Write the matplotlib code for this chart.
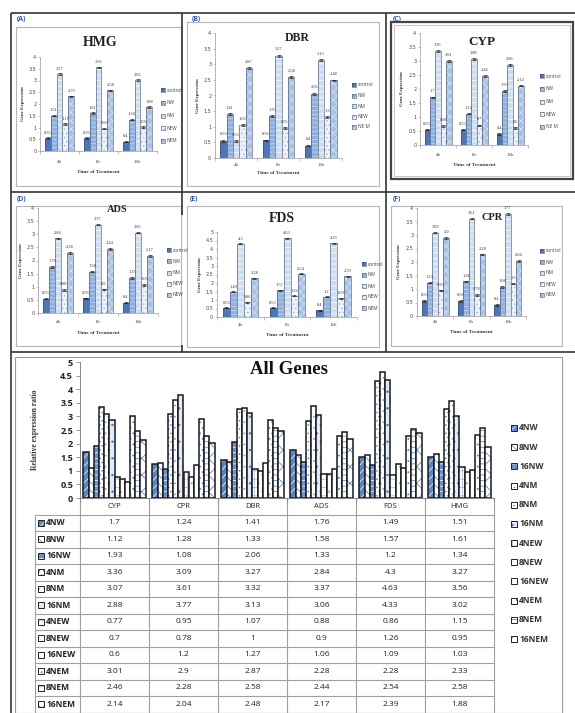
import matplotlib
matplotlib.use("Agg")
import matplotlib.pyplot as plt
from matplotlib.patches import Rectangle
from matplotlib.ticker import FuncFormatter, MultipleLocator, FixedLocator
import numpy as np

plt.rcParams['hatch.linewidth'] = 0.5

W, H = 575, 713
fig = plt.figure(figsize=(W / 100, H / 100), dpi=100)

# ---------------- data ----------------
times = ["4h", "8h", "16h"]
treatments = ["control", "NW", "NM", "NEW", "NEM"]

# rows: control, NW, NM, NEW, NEM ; columns: 4h, 8h, 16h
hmg = [[0.55, 0.56, 0.4], [1.51, 1.61, 1.34], [3.27, 3.56, 3.02], [1.15, 0.95, 1.03], [2.33, 2.58, 1.88]]
dbr = [[0.55, 0.56, 0.4], [1.41, 1.33, 2.06], [0.53, 3.27, 3.13], [1.06, 0.95, 1.3], [2.87, 2.58, 2.48]]
cyp = [[0.55, 0.55, 0.4], [1.7, 1.12, 1.93], [3.36, 3.08, 2.86], [0.68, 0.7, 0.6], [3.01, 2.46, 2.12]]
ads = [[0.55, 0.56, 0.4], [1.76, 1.58, 1.33], [2.84, 3.37, 3.06], [0.88, 0.9, 1.06], [2.28, 2.44, 2.17]]
fds = [[0.55, 0.55, 0.4], [1.49, 1.57, 1.2], [4.3, 4.63, 4.33], [0.86, 1.26, 1.09], [2.28, 2.54, 2.39]]
cpr = [[0.55, 0.56, 0.4], [1.24, 1.28, 1.08], [3.09, 3.61, 3.77], [0.95, 0.78, 1.2], [2.9, 2.28, 2.04]]

genes = ["CYP", "CPR", "DBR", "ADS", "FDS", "HMG"]
conditions = ["4NW", "8NW", "16NW", "4NM", "8NM", "16NM",
              "4NEW", "8NEW", "16NEW", "4NEM", "8NEM", "16NEM"]
r_4nw = [1.7, 1.24, 1.41, 1.76, 1.49, 1.51]
r_8nw = [1.12, 1.28, 1.33, 1.58, 1.57, 1.61]
r_16nw = [1.93, 1.08, 2.06, 1.33, 1.2, 1.34]
r_4nm = [3.36, 3.09, 3.27, 2.84, 4.3, 3.27]
r_8nm = [3.07, 3.61, 3.32, 3.37, 4.63, 3.56]
r_16nm = [2.88, 3.77, 3.13, 3.06, 4.33, 3.02]
r_4new = [0.77, 0.95, 1.07, 0.88, 0.86, 1.15]
r_8new = [0.7, 0.78, 1, 0.9, 1.26, 0.95]
r_16new = [0.6, 1.2, 1.27, 1.06, 1.09, 1.03]
r_4nem = [3.01, 2.9, 2.87, 2.28, 2.28, 2.33]
r_8nem = [2.46, 2.28, 2.58, 2.44, 2.54, 2.58]
r_16nem = [2.14, 2.04, 2.48, 2.17, 2.39, 1.88]
ratios = [r_4nw, r_8nw, r_16nw, r_4nm, r_8nm, r_16nm,
          r_4new, r_8new, r_16new, r_4nem, r_8nem, r_16nem]

ERR = 0.03


def rect(x0, y0, x1, y1):
    return [x0 / W, 1 - y1 / H, (x1 - x0) / W, (y1 - y0) / H]


# pixel-space layer for frames, labels, table and legends
ov = fig.add_axes([0, 0, 1, 1])
ov.set_xlim(0, W)
ov.set_ylim(H, 0)
ov.axis('off')

SERIF = 'Liberation Serif'
SANS = 'Open Sans'

# ---------------- frames ----------------
def line(x0, y0, x1, y1, lw=1.2, c='#333333'):
    ov.plot([x0, x1], [y0, y1], color=c, lw=lw, solid_capstyle='butt')

def box(x0, y0, x1, y1, lw=0.8, c='#b5b5b5'):
    ov.add_patch(Rectangle((x0, y0), x1 - x0, y1 - y0, fill=False, ec=c, lw=lw))

line(11, 13, 575, 13)
line(11, 13, 11, 713)
line(11, 192, 575, 192)
line(11, 352, 575, 352)
line(182, 13, 182, 215)
line(182, 345, 182, 352)
line(386, 13, 386, 352)

box(16, 27, 181, 186)
box(187, 22, 379, 186)
box(391, 22, 573, 179, lw=1.6, c='#444444')
box(394, 25, 570, 176, lw=0.6, c='#bbbbbb')
box(16, 206, 181, 346)
box(187, 206, 379, 347)
box(391, 206, 562, 346)
box(15, 357, 562, 713, lw=0.8, c='#999999')

for lab, (x, y) in zip("ABCDEF", [(17, 19), (192, 19), (393, 19), (17, 199), (190, 199), (393, 199)]):
    ov.text(x, y, f"({lab})", fontsize=5, fontweight='bold', color='#2f55a4',
            ha='left', va='center', family=SANS)

# ---------------- small panels ----------------
small_styles = [
    ('#4f77b5', None, None),
    ('#8fb0dc', '#c9d9ef', '----'),
    ('#cfddf0', '#ffffff', '---'),
    ('#eef3fa', '#9fb6da', '....'),
    ('#a8c0e4', '#dbe6f4', 'xxxx'),
]


def small_panel(data, title, ax_box, ymax, title_xy, title_size, leg_x, leg_ys,
                leg_labels, xt_y, xl_y, yl_x):
    ax = fig.add_axes(rect(*ax_box))
    ax.patch.set_alpha(0)
    x = np.arange(len(times))
    w = 0.15
    for i, (vals, (fc, hc, hatch)) in enumerate(zip(data, small_styles)):
        pos = x + (i - 2) * w
        ax.bar(pos, vals, w, color=fc, edgecolor=hc if hc else fc, hatch=hatch, lw=0)
        ax.bar(pos, vals, w, fill=False, edgecolor='#3a4a66', lw=0.4)
        ax.errorbar(pos, vals, yerr=ERR, fmt='none', ecolor='#222222',
                    elinewidth=0.4, capsize=1.2, capthick=0.5)
        for p, v in zip(pos, vals):
            ax.text(p, v + ymax * 0.035, f"{v:g}", ha='center', va='bottom',
                    fontsize=3.2, color='#333333', family=SERIF)
    ax.set_xlim(-0.5, 2.5)
    ax.set_ylim(0, ymax)
    ax.yaxis.set_major_locator(MultipleLocator(0.5))
    ax.yaxis.set_major_formatter(FuncFormatter(lambda v, p: f"{v:g}"))
    ax.set_xticks(x)
    ax.set_xticklabels([])
    ax.xaxis.set_minor_locator(FixedLocator([-0.5, 0.5, 1.5, 2.5]))
    ax.tick_params(axis='x', which='major', length=0)
    ax.tick_params(axis='x', which='minor', length=2, width=0.4, color='#999999')
    ax.tick_params(axis='y', length=1.5, width=0.4, color='#999999', labelsize=3.5,
                   labelcolor='#444444', pad=1.2)
    for s in ['top', 'right']:
        ax.spines[s].set_visible(False)
    for s in ['left', 'bottom']:
        ax.spines[s].set_color('#999999')
        ax.spines[s].set_linewidth(0.5)
    # category labels
    x0, y0, x1, y1 = ax_box
    for i, t in enumerate(times):
        ov.text(x0 + (x1 - x0) * (i + 0.5) / 3, xt_y, t, fontsize=3.5, ha='center',
                va='center', color='#444444', family=SERIF)
    ov.text((x0 + x1) / 2, xl_y, "Time of Treatment", fontsize=3.8, ha='center',
            va='center', color='#333333', family=SERIF, fontweight='bold')
    ov.text(yl_x, (y0 + y1) / 2, "Gene Expression", fontsize=3.5, rotation=90,
            ha='center', va='center', color='#333333', family=SERIF, fontweight='bold')
    ov.text(title_xy[0], title_xy[1], title, fontsize=title_size, fontweight='bold',
            ha='center', va='center', family=SERIF, color='#222222')
    for lab, ly, (fc, hc, hatch) in zip(leg_labels, leg_ys, small_styles):
        ov.add_patch(Rectangle((leg_x, ly - 2), 4, 4, fc=fc, ec=hc if hc else fc,
                               hatch=hatch, lw=0))
        ov.add_patch(Rectangle((leg_x, ly - 2), 4, 4, fill=False, ec='#3a4a66', lw=0.4))
        ov.text(leg_x + 5.5, ly, lab, fontsize=3.4, va='center', ha='left',
                color='#444444', family=SANS)


def rows(y0, y1):
    return list(np.linspace(y0, y1, 5))

small_panel(hmg, "HMG", (40, 57, 157, 151), 4, (100, 42), 10, 161, rows(90, 141),
            ["control", "NW", "NM", "NEW", "NEM"], 162, 172, 23)
small_panel(dbr, "DBR", (215, 33, 342, 158), 4, (297, 38), 8.5, 352, rows(85, 127),
            ["control", "NW", "NM", "NEW", "NE M"], 165, 173, 198)
small_panel(cyp, "CYP", (420, 33, 528, 145), 4, (482, 42), 9.5, 540, rows(76, 127),
            ["control", "NW", "NM", "NEW", "NE M"], 155, 165, 402)
small_panel(ads, "ADS", (38, 208, 158, 313), 4, (117, 210), 7.5, 167, rows(250, 295),
            ["control", "NW", "NM", "NEW", "NEW"], 322, 333, 21)
small_panel(fds, "FDS", (217, 232, 357, 317), 5, (282, 218), 10, 362, rows(264, 308),
            ["control", "NW", "NM", "NEW", "NEM"], 325, 335, 200)
small_panel(cpr, "CPR", (417, 208, 526, 316), 4, (492, 217), 7.5, 540, rows(251, 295),
            ["control", "NW", "NM", "NEW", "NEM"], 322, 332, 399)

# ---------------- All Genes ----------------
BLUE = '#4a78bd'
big_styles = [
    ('#5a84c4', '#ffffff', '////'),
    ('#ffffff', BLUE, '\\\\\\\\'),
    ('#6b91cb', '#ffffff', '---'),
    ('#ffffff', BLUE, '....'),
    ('#ffffff', '#7d9fd4', '...'),
    ('#e3ebf6', BLUE, '..'),
    ('#ffffff', '#9ab3da', '++'),
    ('#ffffff', '#9ab3da', '..'),
    ('#ffffff', '#ffffff', None),
    ('#ffffff', BLUE, '...'),
    ('#ffffff', BLUE, '---'),
    ('#ffffff', BLUE, 'xx'),
]

bx = fig.add_axes(rect(80, 362, 494, 498))
bx.patch.set_alpha(0)
bw = 0.9 / len(conditions)
gx = np.arange(len(genes))
for j, (vals, (fc, hc, hatch)) in enumerate(zip(ratios, big_styles)):
    pos = gx - 0.45 + bw * (j + 0.5)
    bx.bar(pos, vals, bw, color=fc, edgecolor=hc, hatch=hatch, lw=0)
    bx.bar(pos, vals, bw, fill=False, edgecolor='#1a1a1a', lw=1.1)
bx.set_xlim(-0.5, len(genes) - 0.5)
bx.set_ylim(0, 5)
bx.yaxis.set_major_locator(MultipleLocator(0.5))
bx.yaxis.set_major_formatter(FuncFormatter(lambda v, p: f"{v:g}"))
bx.set_xticks([])
bx.xaxis.set_minor_locator(FixedLocator(np.arange(len(genes) + 1) - 0.5))
bx.tick_params(axis='x', which='minor', length=3, width=0.6, color='#888888')
bx.tick_params(axis='y', length=3, width=0.6, color='#888888', labelsize=6.5,
               pad=2, labelcolor='#222222')
for t in bx.get_yticklabels():
    t.set_fontweight('bold')
    t.set_family(SANS)
for s in ['top', 'right']:
    bx.spines[s].set_visible(False)
for s in ['left', 'bottom']:
    bx.spines[s].set_color('#888888')
    bx.spines[s].set_linewidth(0.7)

ov.text(289, 370, "All Genes", fontsize=13.5, fontweight='bold', family=SERIF,
        ha='center', va='center', color='#111111')
ov.text(35, 430, "Relative expression ratio", fontsize=5.5, fontweight='bold',
        family=SERIF, rotation=90, ha='center', va='center', color='#333333')

# data table under the bars
col_x = list(np.linspace(80, 494, len(genes) + 1))
row_y = list(np.linspace(498, 712.5, len(conditions) + 2))
GRID = '#a0a0a0'
for x in col_x:
    line(x, row_y[0], x, row_y[-1], lw=0.8, c=GRID)
line(35, row_y[1], 35, row_y[-1], lw=0.8, c=GRID)
line(col_x[0], row_y[0], col_x[-1], row_y[0], lw=0.8, c=GRID)
for y in row_y[1:]:
    line(35, y, col_x[-1], y, lw=0.8, c=GRID)

for i, g in enumerate(genes):
    ov.text((col_x[i] + col_x[i + 1]) / 2, (row_y[0] + row_y[1]) / 2, g, fontsize=5.5,
            ha='center', va='center', family=SANS, color='#222222')
for r, (cond, vals, (fc, hc, hatch)) in enumerate(zip(conditions, ratios, big_styles)):
    yc = (row_y[r + 1] + row_y[r + 2]) / 2
    ov.add_patch(Rectangle((38, yc - 3), 6, 6, fc=fc, ec=hc, hatch=hatch, lw=0))
    ov.add_patch(Rectangle((38, yc - 3), 6, 6, fill=False, ec='#222222', lw=0.7))
    ov.text(46, yc, cond, fontsize=6, ha='left', va='center', family=SANS,
            color='#222222', fontweight='bold')
    for i, v in enumerate(vals):
        ov.text((col_x[i] + col_x[i + 1]) / 2, yc, f"{v:g}", fontsize=6, ha='center',
                va='center', family=SANS, color='#222222')

# legend at right
leg_y = list(np.linspace(428, 639, len(conditions)))
for cond, ly, (fc, hc, hatch) in zip(conditions, leg_y, big_styles):
    ov.add_patch(Rectangle((511, ly - 3), 6, 6, fc=fc, ec=hc, hatch=hatch, lw=0))
    ov.add_patch(Rectangle((511, ly - 3), 6, 6, fill=False, ec='#222222', lw=0.7))
    ov.text(519, ly, cond, fontsize=6, ha='left', va='center', family=SANS,
            color='#333333', fontweight='bold')

fig.savefig("out.png", dpi=100)
